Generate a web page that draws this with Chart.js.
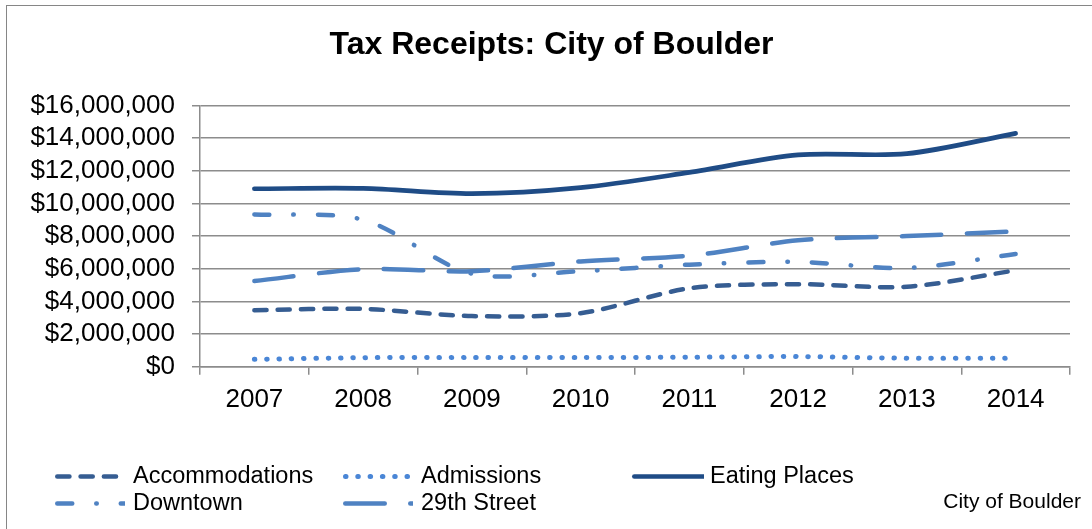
<!DOCTYPE html>
<html>
<head>
<meta charset="utf-8">
<script src="https://cdn.jsdelivr.net/npm/chart.js@4/dist/chart.umd.min.js"></script>
<style>
  html, body { margin: 0; padding: 0; background: #fff; overflow: hidden; }
  #wrap { position: relative; width: 1092px; height: 529px; }
  #frame { position: absolute; left: 6px; top: 5px; width: 1200px; height: 600px; border: 1.5px solid #868686; box-sizing: border-box; pointer-events: none; }
  canvas { position: absolute; left: 0; top: 0; }
</style>
</head>
<body>
<div id="wrap">
  <canvas id="c" width="1092" height="529"></canvas>
  <div id="frame"></div>
</div>
<script>
// ---- data (values in dollars) ----
const categories = ['2007', '2008', '2009', '2010', '2011', '2012', '2013', '2014'];
const accommodations = [3460000, 3540000, 3100000, 3280000, 4800000, 5050000, 4900000, 5900000];
const admissions = [450000, 550000, 570000, 560000, 580000, 620000, 520000, 520000];
const eatingPlaces = [10900000, 10920000, 10600000, 10970000, 11900000, 12970000, 13050000, 14290000];
const downtown = [9330000, 9000000, 5700000, 5850000, 6250000, 6420000, 6050000, 6900000];
const twentyNinthStreet = [5250000, 5970000, 5850000, 6450000, 6800000, 7740000, 8000000, 8290000];
const seriesNames = ['Accommodations', 'Admissions', 'Eating Places', 'Downtown', '29th Street'];
const yTickValues = [0, 2000000, 4000000, 6000000, 8000000, 10000000, 12000000, 14000000, 16000000];
const chartTitle = 'Tax Receipts: City of Boulder';
const sourceNote = 'City of Boulder';

const FONT = "'Liberation Sans', Arial, sans-serif";

// legend layout (positions only)
const legendLayout = [
  { x0: 55, x1: 119, y: 476.5, tx: 133 },
  { x0: 343, x1: 410, y: 476.5, tx: 421 },
  { x0: 632, x1: 704, y: 476.5, tx: 710 },
  { x0: 55, x1: 125, y: 503.5, tx: 133 },
  { x0: 343, x1: 413, y: 503.5, tx: 421 }
];

const styles = [
  { color: '#365D92', width: 4.5, dash: [12.2, 11.1] },
  { color: '#4A86D6', width: 5, dash: [0.5, 11.8] },
  { color: '#1F4C86', width: 4.7, dash: [] },
  { color: '#4F82C2', width: 4.5, dash: [15, 24, 0.5, 24] },
  { color: '#4F82C2', width: 4.5, dash: [39.5, 25.5] }
];
const seriesData = [accommodations, admissions, eatingPlaces, downtown, twentyNinthStreet];

const datasets = seriesData.map((d, i) => ({
  label: seriesNames[i],
  data: d,
  borderColor: styles[i].color,
  backgroundColor: styles[i].color,
  borderWidth: styles[i].width,
  borderDash: styles[i].dash,
  borderCapStyle: 'round',
  borderJoinStyle: 'round',
  pointRadius: 0,
  pointHoverRadius: 0,
  tension: 0.3,
  fill: false
}));

const customDecor = {
  id: 'customDecor',
  afterDraw(chart) {
    const ctx = chart.ctx;
    // title
    ctx.save();
    ctx.fillStyle = '#000';
    ctx.font = 'bold 32px ' + FONT;
    ctx.textBaseline = 'middle';
    ctx.textAlign = 'center';
    ctx.fillText(chartTitle, 551.5, 45);
    ctx.restore();
    // legend
    chart.data.datasets.forEach((ds, i) => {
      const L = legendLayout[i];
      ctx.save();
      ctx.beginPath();
      ctx.rect(L.x0 - 3, L.y - 6, L.x1 - L.x0 + 3, 12);
      ctx.clip();
      ctx.beginPath();
      ctx.strokeStyle = ds.borderColor;
      ctx.lineWidth = ds.borderWidth;
      ctx.lineCap = 'round';
      ctx.setLineDash(ds.borderDash || []);
      ctx.moveTo(L.x0 + ds.borderWidth / 2, L.y);
      ctx.lineTo(L.x1 + 40, L.y);
      ctx.stroke();
      ctx.restore();
      ctx.save();
      ctx.fillStyle = '#000';
      ctx.font = '23.5px ' + FONT;
      ctx.textBaseline = 'middle';
      ctx.textAlign = 'left';
      ctx.fillText(ds.label, L.tx, L.y);
      ctx.restore();
    });
    ctx.save();
    ctx.fillStyle = '#000';
    ctx.font = '21px ' + FONT;
    ctx.textBaseline = 'middle';
    ctx.textAlign = 'right';
    ctx.fillText(sourceNote, 1081, 502.5);
    ctx.restore();
  }
};

new Chart(document.getElementById('c'), {
  type: 'line',
  data: { labels: categories, datasets: datasets },
  options: {
    responsive: false,
    animation: false,
    devicePixelRatio: 1,
    layout: { padding: { left: 0, right: 22, top: 105.5, bottom: 0 } },
    plugins: {
      legend: { display: false },
      tooltip: { enabled: false },
      title: { display: false }
    },
    scales: {
      x: {
        type: 'category',
        offset: true,
        grid: { display: true, drawOnChartArea: false, offset: true, drawTicks: true, tickLength: 8, color: '#8c8c8c', lineWidth: 1.5 },
        border: { display: true, color: '#8c8c8c', width: 1.5 },
        ticks: { color: '#000', font: { family: FONT, size: 26 }, padding: 10, maxRotation: 0, autoSkip: false },
        afterFit(scale) { scale.height = 162.3; }
      },
      y: {
        min: 0,
        max: 16000000,
        afterBuildTicks(scale) { scale.ticks = yTickValues.map(v => ({ value: v })); },
        grid: { color: '#8c8c8c', lineWidth: 1.5, drawTicks: true, tickLength: 8 },
        border: { display: true, color: '#8c8c8c', width: 1.5 },
        ticks: {
          color: '#000',
          font: { family: FONT, size: 26 },
          padding: 17,
          autoSkip: false,
          callback: v => '$' + Number(v).toLocaleString('en-US')
        },
        afterFit(scale) { scale.width = 200; }
      }
    }
  },
  plugins: [customDecor]
});
</script>
</body>
</html>
